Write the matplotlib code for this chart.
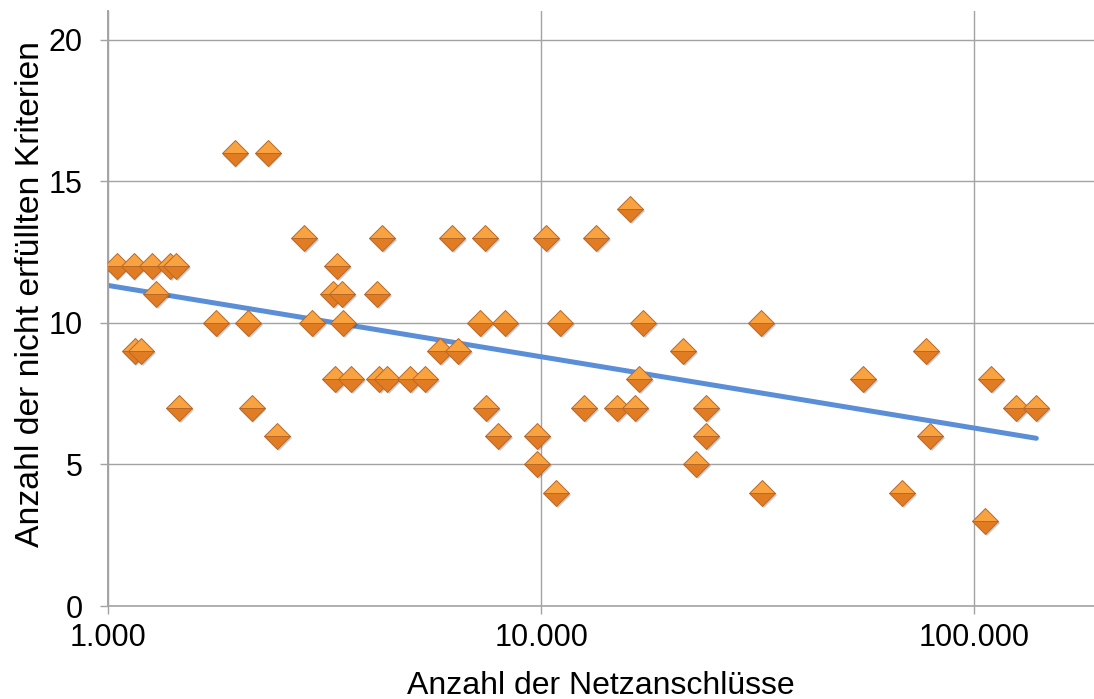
import numpy as np
import matplotlib
matplotlib.use('Agg')
import matplotlib.pyplot as plt
from matplotlib import transforms
from matplotlib.ticker import FixedLocator, FuncFormatter, NullLocator

plt.rcParams['font.family'] = ['Liberation Sans', 'DejaVu Sans']

# Netzanschlüsse je Netzbetreiber und Anzahl nicht erfüllter Kriterien
anschluesse = [
    1960, 2340,
    16050,
    2836, 4294, 6230, 7425, 10270, 13400,
    1049, 1148, 1264, 1391, 1436, 3380,
    1291, 3308, 3471, 4180,
    1776, 2106, 2959, 3489, 7230, 8258, 11060, 17200, 32220,
    1154, 1192, 5845, 6433, 21280, 77480,
    3344, 3641, 4225, 4410, 4983, 5397, 16840, 55410, 109500,
    1459, 2150, 7464, 12570, 14980, 16490, 24050, 125000, 139100,
    2456, 7957, 9790, 24050, 79150,
    9790, 22800,
    10830, 32390, 68190,
    106000,
]
kriterien = [
    16, 16,
    14,
    13, 13, 13, 13, 13, 13,
    12, 12, 12, 12, 12, 12,
    11, 11, 11, 11,
    10, 10, 10, 10, 10, 10, 10, 10, 10,
    9, 9, 9, 9, 9, 9,
    8, 8, 8, 8, 8, 8, 8, 8, 8,
    7, 7, 7, 7, 7, 7, 7, 7, 7,
    6, 6, 6, 6, 6,
    5, 5,
    4, 4, 4,
    3,
]
x_ticks = [1000, 10000, 100000]
y_ticks = [0, 5, 10, 15, 20]

x = np.array(anschluesse, dtype=float)
y = np.array(kriterien, dtype=float)

fig = plt.figure(figsize=(10.94, 6.99), dpi=100)
ax = fig.add_axes([0.0987, 0.133, 0.9013, 0.851])
ax.set_xscale('log')
ax.set_xlim(1000, 189000)
ax.set_ylim(0, 21)

grid_c = '#a3a3a3'
ax.grid(True, which='major', color=grid_c, lw=1.0)
ax.set_axisbelow(True)
for s in ['top', 'right']:
    ax.spines[s].set_visible(False)
for s in ['left', 'bottom']:
    ax.spines[s].set_color(grid_c)
ax.spines['left'].set_linewidth(1.4)
ax.spines['bottom'].set_linewidth(1.2)

# logarithmischer Trend
a, b = np.polyfit(np.log(x), y, 1)
xt = np.geomspace(1000, x.max(), 200)
ax.plot(xt, a * np.log(xt) + b, color='#5a8ed6', lw=3.6, solid_capstyle='round', zorder=2)

# Schatten unter den Rauten
shadow = transforms.offset_copy(ax.transData, fig=fig, x=1.5, y=-2.0, units='dots')
ax.plot(x, y, 'D', ms=13, color='#000000', alpha=0.2, mew=0, transform=shadow, zorder=3)
ax.plot(x, y, 'D', ms=13, fillstyle='top', markerfacecolor='#f9a240',
        markerfacecoloralt='#e27c22', markeredgecolor='#b8692a', mew=0.7, zorder=4)

ax.xaxis.set_major_locator(FixedLocator(x_ticks))
ax.xaxis.set_minor_locator(NullLocator())
ax.xaxis.set_major_formatter(FuncFormatter(lambda v, p: f'{int(v):,}'.replace(',', '.')))
ax.set_yticks(y_ticks)
ax.tick_params(axis='both', direction='out', length=6, width=1.0, color=grid_c,
               labelsize=22, labelcolor='black')
ax.tick_params(axis='x', pad=6)
ax.tick_params(axis='y', pad=12)

ax.set_xlabel('Anzahl der Netzanschlüsse', fontsize=23, labelpad=13)
ax.set_ylabel('Anzahl der nicht erfüllten Kriterien', fontsize=24.3)
ax.yaxis.set_label_coords(-0.063, 0.524)

fig.savefig('out.png', dpi=100)
